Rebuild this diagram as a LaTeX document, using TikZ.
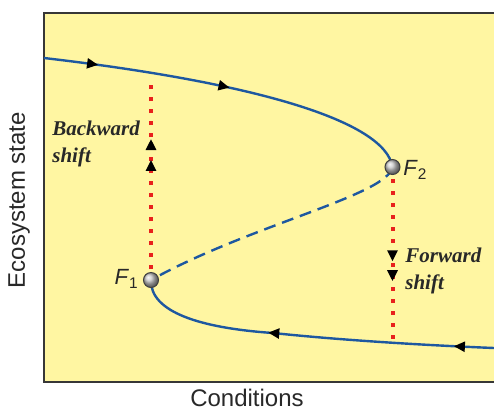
\documentclass[tikz,border=0pt]{standalone}
\usepackage{fontspec}
\setmainfont{Liberation Sans}
\newfontfamily\shiftfont{Liberation Serif}
\usetikzlibrary{arrows.meta,decorations.markings}
\definecolor{paper}{RGB}{255,246,162}
\definecolor{branchblue}{RGB}{30,88,160}
\definecolor{shiftred}{RGB}{232,32,28}
\definecolor{framegray}{RGB}{55,55,55}
\definecolor{inkgray}{RGB}{40,40,40}

\begin{document}
\begin{tikzpicture}[
        x=0.5pt, y=-0.5pt,
        flowtip/.tip={Triangle[length=5.5pt, width=5pt, color=black]},
        branch/.style={draw=branchblue, line width=1.2pt},
        unstable/.style={branch, dash pattern=on 6pt off 3.5pt},
        shiftline/.style={draw=shiftred, line width=2pt, dash pattern=on 2pt off 4pt},
        ball/.style={circle, draw=black!75, line width=0.5pt, shading=ball,
                     ball color=gray!45, minimum size=7.5pt, inner sep=0pt},
        flab/.style={font=\fontsize{11}{13}\selectfont, text=inkgray, inner sep=0pt},
        shiftlab/.style={font=\shiftfont\fontsize{10.5}{13.5}\selectfont\bfseries\itshape,
                         align=left, anchor=west, inner sep=0pt, text=inkgray},
        axislab/.style={font=\fontsize{12}{14}\selectfont, text=inkgray, inner sep=0pt}
    ]
    \useasboundingbox (0,0) rectangle (494,409);
    \fill[paper] (44,13) rectangle (494,382);
    \draw[framegray, line width=1.1pt] (494,13) -- (44,13) -- (44,382) -- (494,382);

    \coordinate (start) at (44,58);
    \coordinate (f2) at (392.5,167);
    \coordinate (f1) at (151,280);
    \coordinate (end) at (494,348);
    \coordinate (top1) at (151,82);
    \coordinate (bot2) at (392.5,341);

    \draw[branch, postaction={decorate, decoration={markings,
            mark=at position 0.145 with {\arrow{flowtip}},
            mark=at position 0.5 with {\arrow{flowtip}}}}]
        (start) .. controls (250,82) and (385,120) .. (f2);
    \draw[unstable] (f2) .. controls (388,195) and (250,225) .. (f1);
    \draw[branch, postaction={decorate, decoration={markings,
            mark=at position 0.38 with {\arrowreversed{flowtip}},
            mark=at position 0.89 with {\arrowreversed{flowtip}}}}]
        (f1) .. controls (150,312) and (200,328) .. (273,333)
             .. controls (340,340) and (420,345) .. (end);

    \node[ball] (F1) at (f1) {};
    \node[ball] (F2) at (f2) {};

    \draw[shiftline, shorten <=1.5pt, postaction={decorate, decoration={markings,
            mark=at position 0.59 with {\arrow{flowtip}},
            mark=at position 0.70 with {\arrow{flowtip}}}}]
        (F1.north) -- (top1);
    \draw[shiftline, shorten <=2pt, postaction={decorate, decoration={markings,
            mark=at position 0.52 with {\arrow{flowtip}},
            mark=at position 0.64 with {\arrow{flowtip}}}}]
        (F2.south) -- (bot2);

    \node[flab, anchor=east] (f1lab) at (139,279) {\textit{F}\textsubscript{1}};
    \node[flab, anchor=west] (f2lab) at (403,170) {\textit{F}\textsubscript{2}};
    \node[shiftlab] (back) at (52,144) {Backward\\shift};
    \node[shiftlab] (fwd) at (405,271) {Forward\\shift};

    \node[axislab] (xlab) at (247,398) {Conditions};
    \node[axislab, rotate=90] (ylab) at (19,200) {Ecosystem state};
\end{tikzpicture}
\end{document}
